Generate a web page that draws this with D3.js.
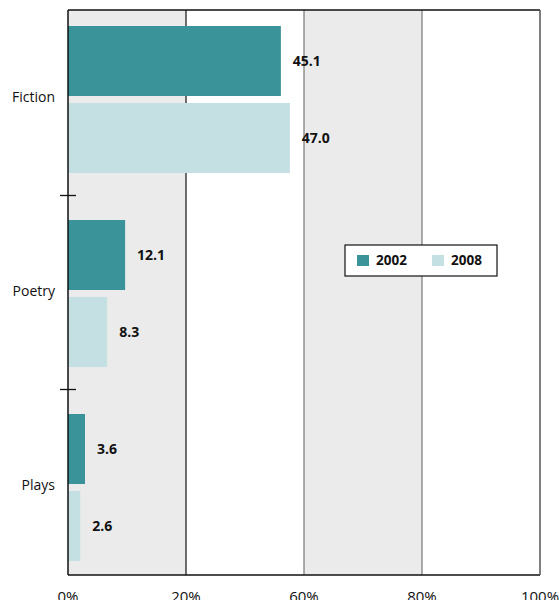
<!DOCTYPE html>
<html><head><meta charset="utf-8">
<script src="https://cdn.jsdelivr.net/npm/d3@7"></script>
<style>body{margin:0;background:#fff}svg{display:block}</style>
</head><body>
<svg id="c" width="559" height="600"></svg>
<script>
const categories = ["Fiction", "Poetry", "Plays"];
const seriesNames = ["2002", "2008"];
const values2002 = [45.1, 12.1, 3.6];
const values2008 = [47.0, 8.3, 2.6];
const valueLabels2002 = ["45.1", "12.1", "3.6"];
const valueLabels2008 = ["47.0", "8.3", "2.6"];
const xTickValues = [0, 25, 50, 75, 100];
const xTickLabels = ["0%", "20%", "60%", "80%", "100%"];
const colors = ["#3a9399", "#c5e0e3"];

(function () {
const svg = d3.select("#c");
const pL = 68, pR = 540, pT = 10, pB = 575;
const font = "'Open Sans', Roboto, sans-serif";

const x = d3.scaleLinear().domain([0, 100]).range([pL, pR]);
const y = d3.scaleBand().domain(categories).range([2.5, 584.5]);
const inner = d3.scaleBand().domain(seriesNames).range([23.5, 170.5]).paddingInner(7/77);

// alternating bands
const bands = d3.pairs(xTickValues);
svg.append("g").selectAll("rect").data(bands).join("rect")
  .attr("x", d => x(d[0])).attr("y", pT)
  .attr("width", d => x(d[1]) - x(d[0])).attr("height", pB - pT)
  .attr("fill", (d, i) => i % 2 === 0 ? "#ebebeb" : "#ffffff");

// grid lines
svg.append("g").selectAll("line").data(xTickValues.slice(1, -1)).join("line")
  .attr("x1", d => x(d)).attr("x2", d => x(d)).attr("y1", pT).attr("y2", pB)
  .attr("stroke", (d, i) => i === 0 ? "#111" : "#777").attr("stroke-width", 1.2);

// bars
const data = [];
categories.forEach((c, i) => {
  data.push({cat: c, s: "2002", v: values2002[i], label: valueLabels2002[i], color: colors[0]});
  data.push({cat: c, s: "2008", v: values2008[i], label: valueLabels2008[i], color: colors[1]});
});
svg.append("g").selectAll("rect").data(data).join("rect")
  .attr("x", x(0)).attr("y", d => y(d.cat) + inner(d.s))
  .attr("width", d => x(d.v) - x(0)).attr("height", inner.bandwidth())
  .attr("fill", d => d.color);

// value labels
svg.append("g").selectAll("text").data(data).join("text")
  .attr("x", d => x(d.v) + 12).attr("y", d => y(d.cat) + inner(d.s) + inner.bandwidth() / 2)
  .attr("dy", "0.35em").attr("font-family", font).attr("font-weight", "bold")
  .attr("font-size", 14).attr("fill", "#111").text(d => d.label);

// frame
svg.append("line").attr("x1", pL).attr("x2", pR).attr("y1", pT).attr("y2", pT).attr("stroke", "#111").attr("stroke-width", 1.5);
svg.append("line").attr("x1", pL).attr("x2", pR).attr("y1", pB).attr("y2", pB).attr("stroke", "#111").attr("stroke-width", 1.5);
svg.append("line").attr("x1", pR).attr("x2", pR).attr("y1", pT).attr("y2", pB).attr("stroke", "#555").attr("stroke-width", 1.5);
svg.append("line").attr("x1", pL).attr("x2", pL).attr("y1", pT).attr("y2", pB).attr("stroke", "#111").attr("stroke-width", 1.5);

// category separator ticks
svg.append("g").selectAll("line").data(categories.slice(1)).join("line")
  .attr("x1", pL - 8).attr("x2", pL + 8)
  .attr("y1", d => y(d) - 1).attr("y2", d => y(d) - 1)
  .attr("stroke", "#111").attr("stroke-width", 1.3);

// category labels
svg.append("g").selectAll("text").data(categories).join("text")
  .attr("x", 55).attr("y", d => y(d) + y.bandwidth() / 2 - 2)
  .attr("dy", "0.35em").attr("text-anchor", "end")
  .attr("font-family", font).attr("font-size", 14).attr("fill", "#111").text(d => d);

// x tick labels
svg.append("g").selectAll("text").data(xTickValues).join("text")
  .attr("x", d => x(d)).attr("y", 602).attr("text-anchor", "middle")
  .attr("font-family", font).attr("font-size", 15).attr("fill", "#111")
  .text((d, i) => xTickLabels[i]);

// legend
const lg = svg.append("g").attr("transform", "translate(345,245)");
lg.append("rect").attr("width", 152).attr("height", 31).attr("fill", "#fff").attr("stroke", "#111").attr("stroke-width", 1.2);
const items = lg.selectAll("g").data(seriesNames).join("g")
  .attr("transform", (d, i) => `translate(${12 + i * 75},10)`);
items.append("rect").attr("width", 12).attr("height", 11).attr("fill", (d, i) => colors[i]);
items.append("text").attr("x", 19).attr("y", 5.5).attr("dy", "0.35em")
  .attr("font-family", font).attr("font-weight", "bold").attr("font-size", 13.5).attr("fill", "#111").text(d => d);
})();
</script>
</body></html>
